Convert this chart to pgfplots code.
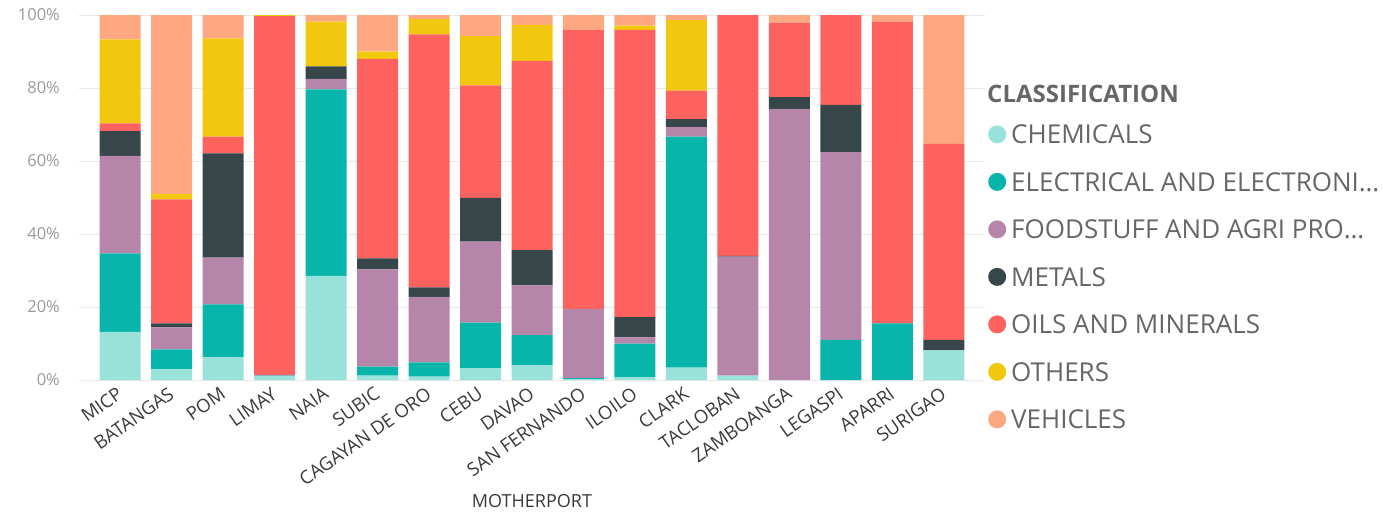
\documentclass[border=0pt]{standalone}
\usepackage{fontspec}
\setmainfont{Open Sans}
\usepackage{pgfplots}
\usepackage{pgfplotstable}
\pgfplotsset{compat=1.18}
\definecolor{cChem}{HTML}{99E2DA}
\definecolor{cElec}{HTML}{08B5AA}
\definecolor{cFood}{HTML}{B586AA}
\definecolor{cMet}{HTML}{374649}
\definecolor{cOil}{HTML}{FD625E}
\definecolor{cOth}{HTML}{F2C80F}
\definecolor{cVeh}{HTML}{FEA882}
\definecolor{gridgray}{HTML}{E8E8E8}
\definecolor{ylabgray}{HTML}{9A9A9A}
\definecolor{xlabgray}{HTML}{3A3A3A}
\definecolor{leggray}{HTML}{666666}
\pgfplotstableread{
x chem elec food metals oils others veh
0 13.2 21.5 26.7 6.8 2.1 23.0 6.7
1 2.9 5.5 6.0 1.1 34.0 1.5 49.0
2 6.2 14.5 12.8 28.6 4.6 26.9 6.4
3 1.0 0.2 0.2 0 98.3 0.3 0
4 28.5 51.1 2.9 3.4 0 12.3 1.8
5 1.2 2.5 26.6 3.0 54.7 2.0 10.0
6 0.9 3.9 18.0 2.6 69.3 4.2 1.1
7 3.2 12.5 22.2 12.0 30.8 13.5 5.8
8 4.0 8.3 13.6 9.7 51.8 9.9 2.7
9 0.2 0.3 19.0 0 76.5 0 4.0
10 0.8 9.2 1.7 5.5 78.7 1.2 2.9
11 3.4 63.3 2.6 2.2 7.8 19.3 1.4
12 1.2 0 32.6 0.2 66.0 0 0
13 0 0 74.3 3.2 20.4 0 2.1
14 0 11.0 51.4 13.0 24.6 0 0
15 0 15.5 0 0 82.6 0 1.9
16 8.1 0 0 2.9 53.7 0 35.3
}\data
\begin{document}
\begin{tikzpicture}
\useasboundingbox (0pt,0pt) rectangle (1383pt,-512pt);
\begin{axis}[
 at={(79pt,-380pt)}, anchor=south west,
 scale only axis, width=906pt, height=365pt,
 ybar stacked, bar width=41pt,
 xmin=-0.8, xmax=16.8, ymin=0, ymax=100,
 axis line style={draw=none},
 major tick length=0pt,
 ytick={0,20,40,60,80,100},
 yticklabels={0\%,20\%,40\%,60\%,80\%,100\%},
 ymajorgrids, grid style={color=gridgray, line width=1pt},
 xtick={0,...,16},
 xticklabels={MICP,BATANGAS,POM,LIMAY,NAIA,SUBIC,CAGAYAN DE ORO,CEBU,DAVAO,SAN FERNANDO,ILOILO,CLARK,TACLOBAN,ZAMBOANGA,LEGASPI,APARRI,SURIGAO},
 x tick label style={xshift=-4pt, yshift=-6pt, rotate=35, anchor=north east, inner sep=0pt, font=\fontsize{18.5}{18.5}\selectfont, text=xlabgray},
 y tick label style={xshift=-19pt, anchor=east, inner sep=0pt, font=\fontsize{16.5}{16.5}\selectfont, text=ylabgray},
 xlabel={MOTHERPORT},
 xlabel style={at={(axis description cs:0.5,-0.348)}, anchor=base, inner sep=0pt, font=\fontsize{18}{18}\selectfont, text=xlabgray},
 legend cell align=left,
 legend style={draw=none, fill=none, at={(1.0033,0.6986)}, anchor=north west, inner sep=0pt, row sep=29.2pt, column sep=5pt,
   font=\fontsize{26}{26}\selectfont, text=leggray,
   nodes={inner sep=0pt, text height=18.3pt, text depth=0pt}},
 legend image code/.code={\fill[#1] (9pt,0pt) circle (9pt);},
]
\addplot[fill=cChem, draw=none] table[x=x,y=chem]{\data};
\addlegendentry{CHEMICALS}
\addplot[fill=cElec, draw=none] table[x=x,y=elec]{\data};
\addlegendentry{ELECTRICAL AND ELECTRONI…}
\addplot[fill=cFood, draw=none] table[x=x,y=food]{\data};
\addlegendentry{FOODSTUFF AND AGRI PRO…}
\addplot[fill=cMet, draw=none] table[x=x,y=metals]{\data};
\addlegendentry{METALS}
\addplot[fill=cOil, draw=none] table[x=x,y=oils]{\data};
\addlegendentry{OILS AND MINERALS}
\addplot[fill=cOth, draw=none] table[x=x,y=others]{\data};
\addlegendentry{OTHERS}
\addplot[fill=cVeh, draw=none] table[x=x,y=veh]{\data};
\addlegendentry{VEHICLES}
\end{axis}
\node[anchor=base west, inner sep=0pt, font=\bfseries\fontsize{24}{24}\selectfont, text=leggray] at (987pt,-102.7pt) {CLASSIFICATION};
\end{tikzpicture}
\end{document}
